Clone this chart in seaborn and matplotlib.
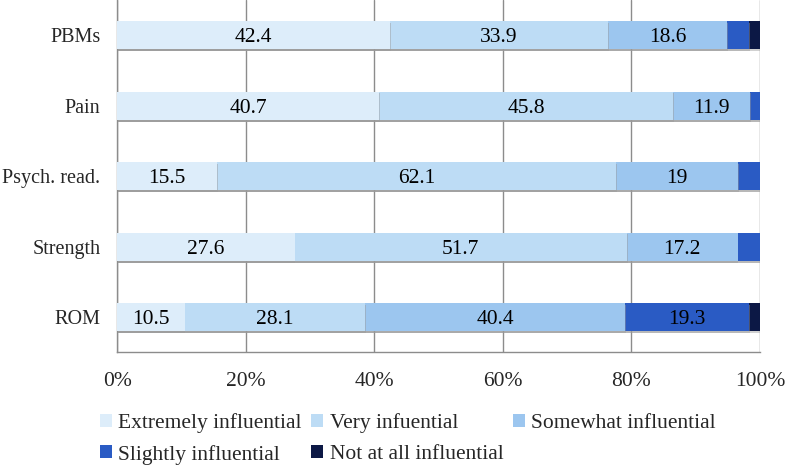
import numpy as np
import pandas as pd
import seaborn as sns
import matplotlib.pyplot as plt
import matplotlib.patheffects as pe
from matplotlib.patches import Patch

# data (percent of respondents)
categories = ["PBMs", "Pain", "Psych. read.", "Strength", "ROM"]
levels = ["Extremely influential", "Very infuential", "Somewhat influential",
          "Slightly influential", "Not at all influential"]
extremely = [42.4, 40.7, 15.5, 27.6, 10.5]
very = [33.9, 45.8, 62.1, 51.7, 28.1]
somewhat = [18.6, 11.9, 19.0, 17.2, 40.4]
slightly = [3.4, 1.6, 3.4, 3.5, 19.3]
not_at_all = [1.7, 0.0, 0.0, 0.0, 1.7]
colors = ["#ddedfa", "#bddcf5", "#9cc6ef", "#2a5bc4", "#0c1845"]

df = pd.DataFrame({
    "category": categories,
    levels[0]: extremely,
    levels[1]: very,
    levels[2]: somewhat,
    levels[3]: slightly,
    levels[4]: not_at_all,
})

sns.set_style("white")
plt.rcParams["font.family"] = ["Liberation Serif", "DejaVu Serif"]
fs = 15.5
plt.rcParams["font.size"] = fs

fig = plt.figure(figsize=(7.86, 4.65), dpi=100)
ax = fig.add_axes([0.149, 0.242, 0.818, 0.758])

cum = df[levels].cumsum(axis=1)

# draw the stacked bars widest first so each segment shows through
for i in range(len(levels) - 1, -1, -1):
    sns.barplot(x=cum[levels[i]], y=df["category"], color=colors[i],
                orient="h", width=0.4, saturation=1, ax=ax, zorder=3)

shadow = [pe.SimplePatchShadow(offset=(0.6, -1.3), shadow_rgbFace="#9a9a9a", alpha=0.45),
          pe.Normal()]
for p in ax.patches:
    p.set_edgecolor("none")
    p.set_path_effects(shadow)

# value labels in the middle of the segments
for j in range(len(categories)):
    left = 0
    for i in range(len(levels)):
        v = df[levels[i]][j]
        if v >= 5:
            ax.text(left + v / 2, j, f"{v:g}", ha="center", va="center_baseline",
                    fontsize=fs, color="black", zorder=5)
        left += v

ax.set_xlim(0, 100)
ax.set_ylim(len(categories) - 0.5, -0.5)
ax.set_xticks(np.arange(0, 101, 20))
ax.set_xticklabels([f"{t}%" for t in range(0, 101, 20)])
ax.set_xlabel("")
ax.set_ylabel("")

ax.grid(axis="x", color="#8c8c8c", linewidth=1, zorder=0)
ax.set_axisbelow(True)
for s in ["top", "right"]:
    ax.spines[s].set_visible(False)
for s in ["left", "bottom"]:
    ax.spines[s].set_color("#8c8c8c")
    ax.spines[s].set_linewidth(1)

ax.tick_params(axis="y", which="major", length=0, pad=12)
ax.set_yticks(np.arange(-0.5, len(categories), 1), minor=True)
ax.tick_params(axis="y", which="minor", length=5, color="#8c8c8c", direction="out")
ax.tick_params(axis="x", length=5, color="#8c8c8c", direction="out", pad=9)
for lbl in ax.get_yticklabels():
    lbl.set_fontsize(14.5)

handles = [Patch(facecolor=c, edgecolor="none") for c in colors]
order = [0, 3, 1, 4, 2]
fig.legend([handles[k] for k in order], [levels[k] for k in order],
           ncol=3, loc="upper left", bbox_to_anchor=(0.127, 0.112),
           frameon=False, handlelength=0.55, handleheight=0.55,
           handletextpad=0.3, columnspacing=0.45, labelspacing=0.55,
           borderaxespad=0, borderpad=0, fontsize=fs)

fig.savefig("out.png", dpi=100)
